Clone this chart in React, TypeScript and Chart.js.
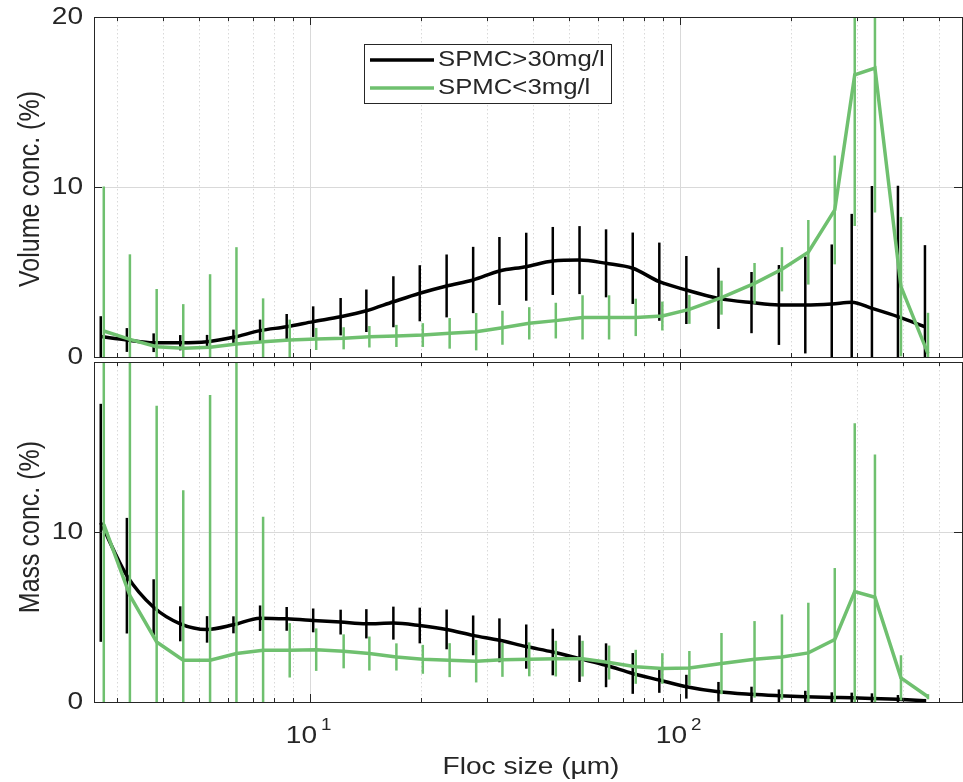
import React, { useEffect, useRef } from 'react';
import { Chart, registerables } from 'chart.js';

Chart.register(...registerables);

// Floc size bins (µm)
const sizes = [2.72, 3.2, 3.78, 4.46, 5.27, 6.21, 7.33, 8.65, 10.2, 12.1, 14.2, 16.8, 19.8, 23.4, 27.6, 32.5, 38.4, 45.3, 53.5, 63.1, 74.5, 87.9, 104, 127, 156, 185, 218, 257, 291, 330, 388, 459];

// Volume concentration (%)
const volHigh = [1.2, 1.0, 0.84, 0.84, 0.9, 1.16, 1.55, 1.78, 2.08, 2.37, 2.72, 3.25, 3.75, 4.18, 4.53, 5.06, 5.31, 5.65, 5.7, 5.51, 5.22, 4.43, 3.94, 3.45, 3.2, 3.06, 3.06, 3.12, 3.22, 2.86, 2.37, 1.78];
const volHighErr = [1.2, 0.7, 0.55, 0.45, 0.4, 0.45, 0.65, 0.75, 0.9, 1.1, 1.25, 1.5, 1.65, 1.85, 1.95, 2.0, 2.0, 2.0, 2.0, 2.0, 2.1, 2.3, 2.0, 1.8, 1.8, 2.35, 2.85, 3.5, 5.2, 7.2, 7.7, 4.8];
const volLow = [1.53, 1.04, 0.6, 0.51, 0.57, 0.76, 0.9, 1.0, 1.06, 1.1, 1.19, 1.24, 1.29, 1.39, 1.49, 1.72, 1.98, 2.14, 2.33, 2.33, 2.33, 2.41, 2.8, 3.49, 4.33, 5.16, 6.16, 8.65, 16.6, 17.0, 4.14, 0.2];
const volLowErr = [8.5, 5.0, 3.4, 2.6, 4.3, 5.7, 2.55, 1.2, 0.65, 0.65, 0.63, 0.65, 0.7, 0.9, 1.1, 1.0, 0.95, 1.05, 1.3, 1.3, 1.1, 0.85, 0.85, 1.0, 1.2, 1.3, 1.9, 3.2, 8.9, 8.5, 4.1, 2.4];

// Mass concentration (%)
const massHigh = [10.54, 7.43, 5.57, 4.6, 4.27, 4.54, 4.93, 4.89, 4.8, 4.7, 4.6, 4.64, 4.5, 4.27, 3.92, 3.63, 3.26, 2.94, 2.55, 2.16, 1.68, 1.29, 0.9, 0.6, 0.45, 0.37, 0.31, 0.27, 0.25, 0.21, 0.16, 0.08];
const massHighErr = [7.0, 3.4, 1.65, 1.03, 0.78, 0.5, 0.75, 0.7, 0.7, 0.73, 0.86, 0.97, 1.05, 1.17, 1.17, 1.29, 1.3, 1.37, 1.37, 1.29, 1.2, 0.75, 0.7, 0.58, 0.45, 0.37, 0.35, 0.3, 0.3, 0.3, 0.25, 0.1];
const massLow = [10.45, 6.26, 3.53, 2.46, 2.46, 2.85, 3.04, 3.04, 3.08, 2.98, 2.85, 2.65, 2.51, 2.46, 2.4, 2.48, 2.51, 2.55, 2.55, 2.32, 2.07, 1.97, 2.0, 2.26, 2.51, 2.65, 2.89, 3.68, 6.49, 6.16, 1.42, 0.31];
const massLowErr = [12, 14, 13.9, 10.0, 15.6, 20, 7.85, 1.6, 1.25, 1.0, 1.0, 0.8, 0.85, 1.0, 1.25, 1.0, 1.0, 1.05, 1.05, 1.0, 1.0, 0.9, 1.0, 1.8, 2.25, 2.5, 2.95, 4.2, 9.9, 8.4, 1.33, 0.15];

const seriesLabels = ['SPMC>30mg/l', 'SPMC<3mg/l'];
const seriesColors = ['#000000', '#6FC06F'];

const yTitles = ['Volume conc. (%)', 'Mass conc. (%)'];
const xTitle = 'Floc size (µm)';
const topYTicks = [0, 10, 20];
const bottomYTicks = [0, 10];
const xMajor = [10, 100];
const xMinor = [3, 4, 5, 6, 7, 8, 9, 20, 30, 40, 50, 60, 70, 80, 90, 200, 300, 400, 500];
const xTickLabels = [{ v: 10, base: '10', exp: '1' }, { v: 100, base: '10', exp: '2' }];

const X_MIN = 2.608;
const X_MAX = 578;
const DODGE = 1.019; // small horizontal offset of the second series
const FONT = '"Liberation Sans", Arial, Helvetica, sans-serif';
const SX = 1.17;
const AXIS = '#262626';
const GRID = '#d9d9d9';

function hText(ctx: CanvasRenderingContext2D, t: string, x: number, y: number, size: number, align: CanvasTextAlign, base: CanvasTextBaseline = 'middle') {
  ctx.save();
  ctx.translate(x, y);
  ctx.scale(SX, 1);
  ctx.font = `${size}px ${FONT}`;
  ctx.fillStyle = AXIS;
  ctx.textAlign = align;
  ctx.textBaseline = base;
  ctx.fillText(t, 0, 0);
  ctx.restore();
}

const decorPlugin = {
  id: 'decor',
  beforeDatasetsDraw(chart: any) {
    const { ctx, chartArea: ca, scales } = chart;
    const x = scales.x, y = scales.y;
    ctx.save();
    ctx.lineWidth = 1;
    ctx.strokeStyle = GRID;
    ctx.setLineDash([1.5, 2.5]);
    xMinor.forEach((v) => {
      const px = Math.round(x.getPixelForValue(v)) + 0.5;
      ctx.beginPath(); ctx.moveTo(px, ca.top); ctx.lineTo(px, ca.bottom); ctx.stroke();
    });
    ctx.setLineDash([]);
    xMajor.forEach((v) => {
      const px = Math.round(x.getPixelForValue(v)) + 0.5;
      ctx.beginPath(); ctx.moveTo(px, ca.top); ctx.lineTo(px, ca.bottom); ctx.stroke();
    });
    const py = Math.round(y.getPixelForValue(10)) + 0.5;
    ctx.beginPath(); ctx.moveTo(ca.left, py); ctx.lineTo(ca.right, py); ctx.stroke();
    ctx.restore();
  },
  beforeDatasetDraw(chart: any, args: any) {
    const ds = chart.data.datasets[args.index];
    const errs = ds.errors;
    if (!errs) return;
    const { ctx, chartArea: ca } = chart;
    const y = chart.scales.y;
    ctx.save();
    ctx.beginPath();
    ctx.rect(ca.left, ca.top, ca.right - ca.left, ca.bottom - ca.top);
    ctx.clip();
    ctx.strokeStyle = ds.errorColor;
    ctx.lineWidth = 2.5;
    args.meta.data.forEach((pt: any, i: number) => {
      const v = ds.data[i].y;
      const e = errs[i];
      ctx.beginPath();
      ctx.moveTo(pt.x, y.getPixelForValue(v - e));
      ctx.lineTo(pt.x, y.getPixelForValue(v + e));
      ctx.stroke();
    });
    ctx.restore();
  },
  afterDatasetsDraw(chart: any, _args: any, opts: any) {
    const { ctx, chartArea: ca, scales } = chart;
    const x = scales.x, y = scales.y;
    ctx.save();
    // axes box
    ctx.strokeStyle = AXIS;
    ctx.lineWidth = 1;
    ctx.strokeRect(Math.round(ca.left) + 0.5, Math.round(ca.top) + 0.5, Math.round(ca.right - ca.left), Math.round(ca.bottom - ca.top));
    // x ticks (inward, top and bottom)
    const tick = (v: number, len: number) => {
      const px = Math.round(x.getPixelForValue(v)) + 0.5;
      ctx.beginPath();
      ctx.moveTo(px, ca.bottom); ctx.lineTo(px, ca.bottom - len);
      ctx.moveTo(px, ca.top); ctx.lineTo(px, ca.top + len);
      ctx.stroke();
    };
    xMinor.forEach((v) => tick(v, 4));
    xMajor.forEach((v) => tick(v, 8));
    // y ticks
    (opts.yTicks as number[]).forEach((v) => {
      const py = Math.round(y.getPixelForValue(v)) + 0.5;
      ctx.beginPath();
      ctx.moveTo(ca.left, py); ctx.lineTo(ca.left + 8, py);
      ctx.moveTo(ca.right, py); ctx.lineTo(ca.right - 8, py);
      ctx.stroke();
      hText(ctx, String(v), ca.left - 11, py, 24, 'right');
    });
    // y title
    const cy = (ca.top + ca.bottom) / 2 + opts.titleShift;
    ctx.save();
    ctx.translate(31, cy);
    ctx.scale(SX, 1);
    ctx.rotate(-Math.PI / 2);
    ctx.font = `25px ${FONT}`;
    ctx.fillStyle = AXIS;
    ctx.textAlign = 'center';
    ctx.textBaseline = 'middle';
    ctx.fillText(opts.yTitle, 0, 0);
    ctx.restore();
    // x labels
    if (opts.showX) {
      xTickLabels.forEach((t) => {
        const px = x.getPixelForValue(t.v);
        hText(ctx, t.base, px + 7, ca.bottom + 41, 24, 'right', 'alphabetic');
        hText(ctx, t.exp, px + 11, ca.bottom + 28, 16, 'left', 'alphabetic');
      });
      hText(ctx, xTitle, 531, ca.bottom + 65, 24, 'center');
    }
    // legend
    if (opts.showLegend) {
      const lx = 364.5, ly = 44.5, lw = 247, lh = 59;
      ctx.fillStyle = '#ffffff';
      ctx.fillRect(lx, ly, lw, lh);
      ctx.strokeStyle = AXIS;
      ctx.lineWidth = 1;
      ctx.strokeRect(lx, ly, lw, lh);
      chart.data.datasets.forEach((ds: any, i: number) => {
        const yy = 60 + i * 28;
        ctx.strokeStyle = ds.borderColor;
        ctx.lineWidth = 3.5;
        ctx.beginPath(); ctx.moveTo(370, yy); ctx.lineTo(434, yy); ctx.stroke();
        hText(ctx, ds.label, 438, yy, 22, 'left');
      });
    }
    ctx.restore();
  },
};

function makeConfig(high: number[], highErr: number[], low: number[], lowErr: number[], padding: any, decor: any) {
  return {
    type: 'line' as const,
    data: {
      datasets: [
        {
          label: seriesLabels[0],
          data: sizes.map((s, i) => ({ x: s, y: high[i] })),
          errors: highErr,
          errorColor: seriesColors[0],
          borderColor: seriesColors[0],
          borderWidth: 3.5,
          pointRadius: 0,
          cubicInterpolationMode: 'monotone',
          order: 1,
        },
        {
          label: seriesLabels[1],
          data: sizes.map((s, i) => ({ x: s * DODGE, y: low[i] })),
          errors: lowErr,
          errorColor: seriesColors[1],
          borderColor: seriesColors[1],
          borderWidth: 3.5,
          pointRadius: 0,
          tension: 0,
          order: 0,
        },
      ],
    },
    options: {
      animation: false,
      responsive: false,
      devicePixelRatio: 1,
      layout: { padding },
      scales: {
        x: { type: 'logarithmic', min: X_MIN, max: X_MAX, display: false },
        y: { type: 'linear', min: 0, max: 20, display: false },
      },
      plugins: {
        legend: { display: false },
        tooltip: { enabled: false },
        decor,
      },
    },
    plugins: [decorPlugin],
  };
}

export default function App() {
  const topRef = useRef<HTMLCanvasElement>(null);
  const botRef = useRef<HTMLCanvasElement>(null);
  useEffect(() => {
    const c1 = new Chart(topRef.current as any, makeConfig(volHigh, volHighErr, volLow, volLowErr,
      { top: 17, bottom: 15, left: 94, right: 1 },
      { yTicks: topYTicks, yTitle: yTitles[0], titleShift: 2, showX: false, showLegend: true }) as any);
    const c2 = new Chart(botRef.current as any, makeConfig(massHigh, massHighErr, massLow, massLowErr,
      { top: 2, bottom: 80, left: 94, right: 1 },
      { yTicks: bottomYTicks, yTitle: yTitles[1], titleShift: -5, showX: true, showLegend: false }) as any);
    return () => { c1.destroy(); c2.destroy(); };
  }, []);
  return (
    <div style={{ position: 'fixed', left: 0, top: 0, width: 963, height: 782, background: '#fff' }}>
      <canvas ref={topRef} width={963} height={372} style={{ position: 'absolute', left: 0, top: 0, width: 963, height: 372 }} />
      <canvas ref={botRef} width={963} height={422} style={{ position: 'absolute', left: 0, top: 360, width: 963, height: 422 }} />
    </div>
  );
}
